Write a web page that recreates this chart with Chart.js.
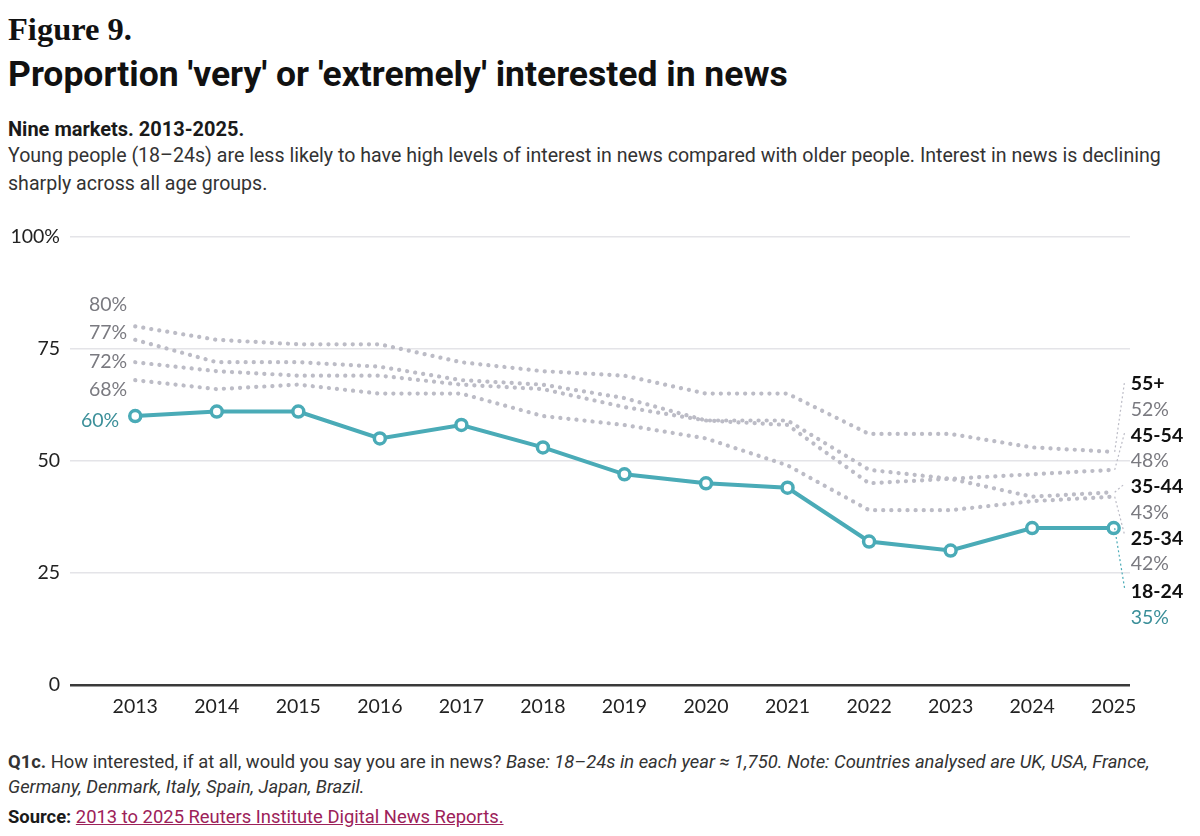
<!doctype html>
<html lang="en">
  <head>
    <meta charset="utf-8">
    <title>Interest in news by age</title>
    <style>
      * {
        margin: 0;
        padding: 0;
      }
      body {
        width: 1200px;
        height: 836px;
        background: #fff;
        position: relative;
        overflow: hidden;
        font-family: Roboto, sans-serif;
        color: #1a1a1a;
      }
      .txt {
        position: absolute;
        left: 8px;
        white-space: nowrap;
      }
      .fig {
        top: 11px;
        font-family: "Liberation Serif", serif;
        font-weight: bold;
        font-size: 32.5px;
        line-height: 36px;
        color: #111;
      }
      .title {
        top: 53px;
        font-weight: bold;
        font-size: 35.5px;
        line-height: 42px;
        color: #111;
      }
      .sub {
        top: 117px;
        font-weight: bold;
        font-size: 20px;
        line-height: 24px;
      }
      .desc {
        top: 142px;
        font-size: 19.6px;
        line-height: 28px;
        color: #333;
      }
      .note {
        top: 749px;
        font-size: 18.4px;
        line-height: 25px;
        color: #333;
      }
      .src {
        top: 805px;
        font-size: 18.4px;
        line-height: 24px;
      }
      .src a {
        color: #9c2159;
      }
      .chartBox {
        position: absolute;
        left: 0;
        top: 215px;
        width: 1200px;
        height: 510px;
      }
    </style>
  </head>
  <body>
    <div class="txt fig">Figure 9.</div>
    <div class="txt title">Proportion 'very' or 'extremely' interested in news</div>
    <div class="txt sub">Nine markets. 2013-2025.</div>
    <div class="txt desc">Young people (18–24s) are less likely to have high levels of interest in news compared with older people. Interest in news is declining<br>sharply across all age groups.</div>
    <div class="chartBox"><canvas id="myChart"></canvas></div>
    <div class="txt note"><b>Q1c.</b> How interested, if at all, would you say you are in news? <i>Base: 18–24s in each year ≈ 1,750. Note: Countries analysed are UK, USA, France,<br>Germany, Denmark, Italy, Spain, Japan, Brazil.</i></div>
    <div class="txt src"><b>Source:</b> <a href="#">2013 to 2025 Reuters Institute Digital News Reports.</a></div>

    <script src="https://cdn.jsdelivr.net/npm/chart.js/dist/chart.umd.min.js"></script>
    <script>
    // data
    const years = [2013, 2014, 2015, 2016, 2017, 2018, 2019, 2020, 2021, 2022, 2023, 2024, 2025];
    const age18_24 = [60, 61, 61, 55, 58, 53, 47, 45, 44, 32, 30, 35, 35];
    const age25_34 = [68, 66, 67, 65, 65, 60, 58, 55, 49, 39, 39, 41, 42];
    const age35_44 = [72, 70, 69, 69, 67, 66, 62, 59, 58, 45, 46, 42, 43];
    const age45_54 = [77, 72, 72, 71, 68, 67, 64, 59, 59, 48, 46, 47, 48];
    const age55plus = [80, 77, 76, 76, 72, 70, 69, 65, 65, 56, 56, 53, 52];
    const yTicks = [0, 25, 50, 75, 100];

    const teal = '#4aabb7';
    const tealText = '#3b8f99';
    const grey = '#bcbcc6';
    const labelFont = 'Lato, sans-serif';

    const toPoints = arr => arr.map((v, i) => ({ x: years[i], y: v }));

    const greyLine = (label, arr) => ({
      label,
      data: toPoints(arr),
      borderColor: grey,
      borderWidth: 4.2,
      borderDash: [0.1, 8],
      borderCapStyle: 'round',
      pointRadius: 0,
      tension: 0
    });

    // the teal line comes first so it sits on top
    const datasets = [
      {
        label: '18-24',
        data: toPoints(age18_24),
        borderColor: teal,
        borderWidth: 4,
        pointRadius: 5.5,
        pointBorderWidth: 3.5,
        pointBackgroundColor: '#fff',
        pointBorderColor: teal,
        tension: 0
      },
      greyLine('25-34', age25_34),
      greyLine('35-44', age35_44),
      greyLine('45-54', age45_54),
      greyLine('55+', age55plus)
    ];

    // start and end labels, stacked beside the lines
    const sideLabels = {
      id: 'sideLabels',
      afterDatasetsDraw(chart) {
        const { ctx, scales: { x, y } } = chart;
        const x0 = x.getPixelForValue(years[0]);
        const x1 = x.getPixelForValue(years[years.length - 1]);
        const last = years.length - 1;
        ctx.save();
        ctx.textBaseline = 'middle';

        // left side: grey starts stacked, teal start on its own
        const greys = [age55plus, age45_54, age35_44, age25_34];
        const meanL = greys.reduce((s, a) => s + y.getPixelForValue(a[0]), 0) / greys.length;
        ctx.font = '19.5px ' + labelFont;
        ctx.textAlign = 'right';
        ctx.fillStyle = '#7a7a80';
        greys.forEach((a, i) => {
          ctx.fillText(a[0] + '%', x0 - 8, meanL - 5 + (i - 1.5) * 28.5);
        });
        ctx.fillStyle = tealText;
        ctx.fillText(age18_24[0] + '%', x0 - 16, y.getPixelForValue(age18_24[0]) + 5);

        // right side: name + value pairs with dotted leaders
        const ends = [
          ['55+', age55plus, grey, '#7a7a80'],
          ['45-54', age45_54, grey, '#7a7a80'],
          ['35-44', age35_44, grey, '#7a7a80'],
          ['25-34', age25_34, grey, '#7a7a80'],
          ['18-24', age18_24, teal, tealText]
        ];
        const meanR = ends.reduce((s, e) => s + y.getPixelForValue(e[1][last]), 0) / ends.length;
        ctx.textAlign = 'left';
        ends.forEach((e, i) => {
          const ny = meanR - 1 + (i - 2) * 51.5 + (i === 4 ? 2 : 0);
          const py = y.getPixelForValue(e[1][last]);
          ctx.beginPath();
          ctx.setLineDash([2, 2.5]);
          ctx.lineWidth = 1.2;
          ctx.strokeStyle = e[2];
          ctx.moveTo(x1 + 1, py);
          ctx.lineTo(x1 + 11, ny - 3);
          ctx.stroke();
          ctx.font = 'bold 19.5px ' + labelFont;
          ctx.fillStyle = '#111';
          ctx.fillText(e[0], x1 + 17, ny);
          ctx.font = '19.5px ' + labelFont;
          ctx.fillStyle = e[3];
          ctx.fillText(e[1][last] + '%', x1 + 17, ny + 25.5);
        });
        ctx.restore();
      }
    };

    const config = {
      type: 'line',
      data: { datasets },
      options: {
        responsive: true,
        maintainAspectRatio: false,
        animation: false,
        layout: { padding: { top: 18, right: 70, left: 0, bottom: 0 } },
        scales: {
          x: {
            type: 'linear',
            min: 2012.2,
            max: 2025.2,
            afterBuildTicks: (scale) => { scale.ticks = years.map(v => ({ value: v })); },
            afterFit: (scale) => { scale.height = 40; },
            grid: { display: false },
            border: { display: false },
            ticks: {
              autoSkip: false,
              maxRotation: 0,
              padding: 2,
              color: '#222',
              font: { family: labelFont, size: 19.5 },
              callback: v => String(v)
            }
          },
          y: {
            min: 0,
            max: 100,
            afterBuildTicks: (scale) => { scale.ticks = yTicks.map(v => ({ value: v })); },
            afterFit: (scale) => { scale.width = 70; },
            border: { display: false },
            grid: {
              drawTicks: false,
              color: c => c.tick.value === 0 ? '#3a3a3a' : '#e4e4e8',
              lineWidth: c => c.tick.value === 0 ? 2.5 : 1.5
            },
            ticks: {
              padding: 10,
              color: '#222',
              font: { family: labelFont, size: 19.5 },
              callback: v => v === 100 ? '100%' : String(v)
            }
          }
        },
        plugins: {
          legend: { display: false },
          tooltip: { enabled: false }
        }
      },
      plugins: [sideLabels]
    };

    const myChart = new Chart(document.getElementById('myChart'), config);
    </script>
  </body>
</html>
